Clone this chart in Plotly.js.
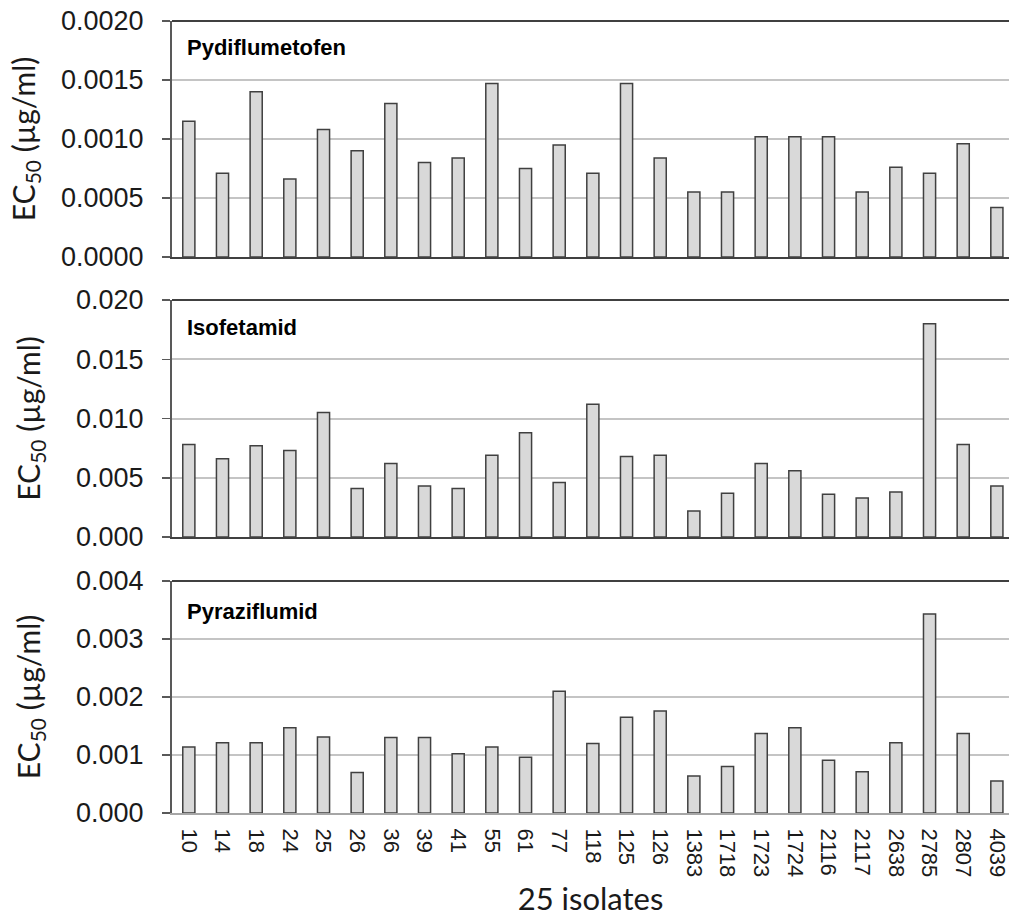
<!DOCTYPE html>
<html>
<head>
<meta charset="utf-8">
<script src="https://cdn.plot.ly/plotly-3.0.1.min.js"></script>
<style>
html,body{margin:0;padding:0;background:#fff;overflow:hidden;}
#chart{width:1009px;height:917px;}
</style>
</head>
<body>
<div id="chart"></div>
<script>
// Isolate names (x categories)
const isolates = ["10","14","18","24","25","26","36","39","41","55","61","77","118","125","126","1383","1718","1723","1724","2116","2117","2638","2785","2807","4039"];

// EC50 values (µg/ml) per fungicide
const pydiflumetofen = [0.00115,0.00071,0.00140,0.00066,0.00108,0.00090,0.00130,0.00080,0.00084,0.00147,0.00075,0.00095,0.00071,0.00147,0.00084,0.00055,0.00055,0.00102,0.00102,0.00102,0.00055,0.00076,0.00071,0.00096,0.00042];
const isofetamid = [0.0078,0.0066,0.0077,0.0073,0.0105,0.0041,0.0062,0.0043,0.0041,0.0069,0.0088,0.0046,0.0112,0.0068,0.0069,0.0022,0.0037,0.0062,0.0056,0.0036,0.0033,0.0038,0.0180,0.0078,0.0043];
const pyraziflumid = [0.00114,0.00121,0.00121,0.00147,0.00131,0.00070,0.00130,0.00130,0.00102,0.00114,0.00096,0.00210,0.00120,0.00165,0.00176,0.00064,0.00080,0.00137,0.00147,0.00091,0.00071,0.00121,0.00343,0.00137,0.00055];

const panelNames = ["Pydiflumetofen","Isofetamid","Pyraziflumid"];
const yTitle = "EC<sub>50</sub> (µg/ml)";
const xTitle = "25 isolates";

const barStyle = {color:"#d9d9d9", line:{color:"#404040", width:1.5}};
const series = [pydiflumetofen, isofetamid, pyraziflumid];
const axisIds = [["x","y"],["x2","y2"],["x3","y3"]];

const data = series.map((vals,i)=>({
  type:"bar", x:isolates, y:vals, xaxis:axisIds[i][0], yaxis:axisIds[i][1],
  width:0.36, marker:barStyle, hoverinfo:"x+y", showlegend:false
}));

const tickFont = {family:"Liberation Sans, Arial, sans-serif", size:27, color:"#1a1a1a"};
const titleFont = {family:"Lato, Carlito, Calibri, sans-serif", size:30, color:"#1a1a1a"};

function yax(domain, range, dtick, fmt, standoff){
  return {
    domain:domain, range:range, dtick:dtick, tick0:0, tickformat:fmt,
    showgrid:true, gridcolor:"#c4c4c4", gridwidth:2,
    zeroline:false, showline:true, linecolor:"#595959", linewidth:2,
    ticks:"outside", ticklen:8, tickwidth:1.5, tickcolor:"#595959",
    tickfont:tickFont, ticklabelstandoff:13,
    title:{text:yTitle, font:titleFont, standoff:standoff},
    fixedrange:true
  };
}
function xax(anchor, showLabels, lineColor){
  return {
    anchor:anchor, type:"category", range:[-0.5,24.36],
    showgrid:false, zeroline:false, showline:true, linecolor:lineColor, linewidth:2,
    ticks:"", showticklabels:showLabels, tickangle:90, ticklabelstandoff:9,
    tickfont:{family:"Liberation Sans, Arial, sans-serif", size:22, color:"#1a1a1a"},
    fixedrange:true
  };
}

const H = 813;
const layout = {
  width:1009, height:917,
  margin:{l:172, r:0, t:0, b:104},
  paper_bgcolor:"#ffffff", plot_bgcolor:"#ffffff",
  bargap:0.64,
  xaxis: xax("y", false, "#404040"),
  xaxis2: Object.assign(xax("y2", false, "#404040"), {matches:"x"}),
  xaxis3: Object.assign(xax("y3", true, "#a6a6a6"), {matches:"x",
      title:{text:xTitle, font:{family:"Lato, Carlito, Calibri, sans-serif", size:31, color:"#1a1a1a"}, standoff:22}}),
  yaxis: yax([(H-257)/H,(H-21)/H],[0,0.002],0.0005,".4f",17),
  yaxis2: yax([(H-537)/H,(H-300)/H],[0,0.02],0.005,".3f",27),
  yaxis3: yax([0,(H-581)/H],[0,0.004],0.001,".3f",27),
  shapes: [["y","x"],["y2","x2"],["y3","x3"]].map(a=>({
    type:"line", xref:"paper", yref:a[0]+" domain", x0:0, x1:1, y0:1, y1:1,
    line:{color:"#404040", width:2}
  })),
  annotations: panelNames.map((n,i)=>({
    text:"<b>"+n+"</b>", xref:"paper", yref:axisIds[i][1]+" domain",
    x:0.0155, y:i===2?0.87:0.886, xanchor:"left", yanchor:"middle", showarrow:false,
    font:{family:"Liberation Sans, Arial, sans-serif", size:22, color:"#000"}
  }))
};

Plotly.newPlot("chart", data, layout, {displayModeBar:false, staticPlot:true});
</script>
</body>
</html>
